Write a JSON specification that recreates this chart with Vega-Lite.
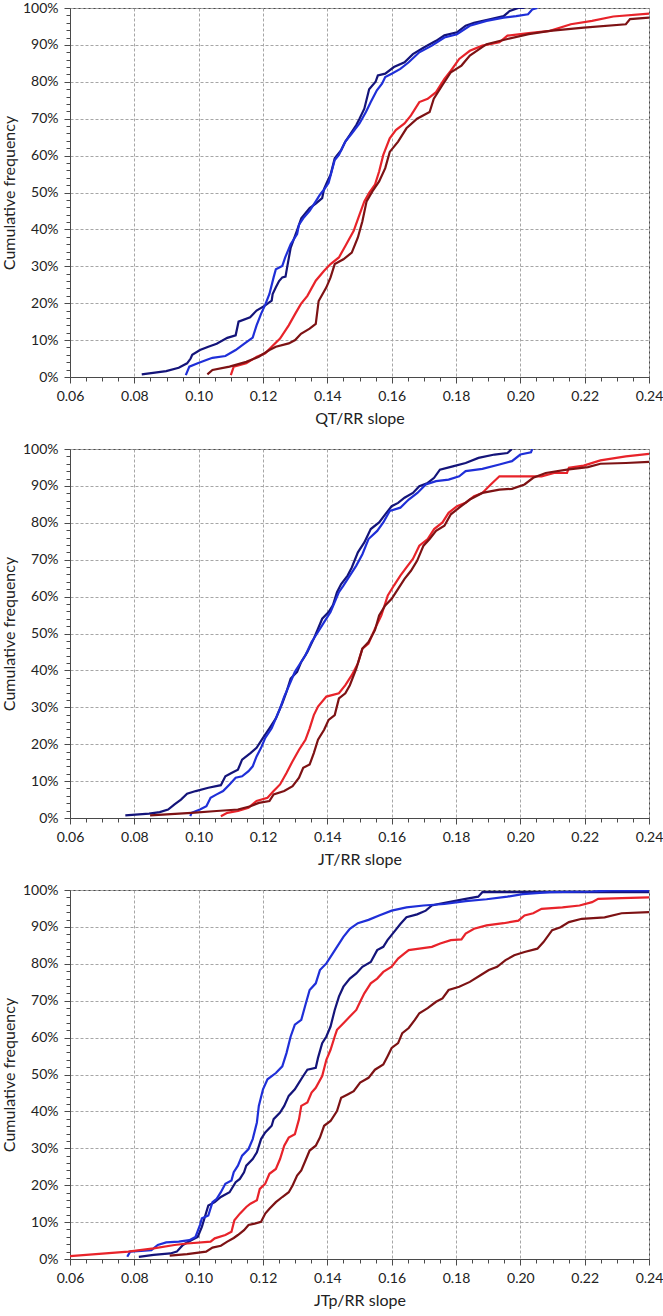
{
  "$schema": "https://vega.github.io/schema/vega-lite/v6.json",
  "padding": {"left": 0, "top": 0, "right": 0, "bottom": 0},
  "spacing": 14,
  "datasets": {
    "cdf": [
      {"p":1,"s":"navy","x":0.0823,"y":0.7},{"p":1,"s":"navy","x":0.0899,"y":1.6},{"p":1,"s":"navy","x":0.0938,"y":2.5},{"p":1,"s":"navy","x":0.0964,"y":3.7},{"p":1,"s":"navy","x":0.0975,"y":5},{"p":1,"s":"navy","x":0.098,"y":6},{"p":1,"s":"navy","x":0.1004,"y":7.3},{"p":1,"s":"navy","x":0.103,"y":8.2},{"p":1,"s":"navy","x":0.1056,"y":9},{"p":1,"s":"navy","x":0.1089,"y":10.6},{"p":1,"s":"navy","x":0.1115,"y":11.3},{"p":1,"s":"navy","x":0.1124,"y":15},{"p":1,"s":"navy","x":0.116,"y":16.2},{"p":1,"s":"navy","x":0.118,"y":18},{"p":1,"s":"navy","x":0.1207,"y":19.4},{"p":1,"s":"navy","x":0.1227,"y":20.7},{"p":1,"s":"navy","x":0.123,"y":22.5},{"p":1,"s":"navy","x":0.124,"y":24.3},{"p":1,"s":"navy","x":0.125,"y":26},{"p":1,"s":"navy","x":0.126,"y":27},{"p":1,"s":"navy","x":0.127,"y":27.2},{"p":1,"s":"navy","x":0.1275,"y":29.7},{"p":1,"s":"navy","x":0.1286,"y":35},{"p":1,"s":"navy","x":0.1305,"y":39.5},{"p":1,"s":"navy","x":0.1319,"y":43},{"p":1,"s":"navy","x":0.1345,"y":45.8},{"p":1,"s":"navy","x":0.1364,"y":47},{"p":1,"s":"navy","x":0.1384,"y":48.5},{"p":1,"s":"navy","x":0.139,"y":51},{"p":1,"s":"navy","x":0.14,"y":53},{"p":1,"s":"navy","x":0.141,"y":54.8},{"p":1,"s":"navy","x":0.1423,"y":59.3},{"p":1,"s":"navy","x":0.1443,"y":61.5},{"p":1,"s":"navy","x":0.1456,"y":63.8},{"p":1,"s":"navy","x":0.147,"y":65.6},{"p":1,"s":"navy","x":0.149,"y":68.3},{"p":1,"s":"navy","x":0.15,"y":70},{"p":1,"s":"navy","x":0.1515,"y":72.7},{"p":1,"s":"navy","x":0.153,"y":78},{"p":1,"s":"navy","x":0.155,"y":80},{"p":1,"s":"navy","x":0.1557,"y":81.7},{"p":1,"s":"navy","x":0.158,"y":82.2},{"p":1,"s":"navy","x":0.1607,"y":84},{"p":1,"s":"navy","x":0.164,"y":85.3},{"p":1,"s":"navy","x":0.1666,"y":87.5},{"p":1,"s":"navy","x":0.17,"y":89.3},{"p":1,"s":"navy","x":0.1738,"y":91.1},{"p":1,"s":"navy","x":0.1764,"y":92.6},{"p":1,"s":"navy","x":0.1803,"y":93.4},{"p":1,"s":"navy","x":0.183,"y":95.2},{"p":1,"s":"navy","x":0.1856,"y":96},{"p":1,"s":"navy","x":0.1908,"y":97},{"p":1,"s":"navy","x":0.1948,"y":97.8},{"p":1,"s":"navy","x":0.1967,"y":99.2},{"p":1,"s":"navy","x":0.1994,"y":100},{"p":1,"s":"navy","x":0.2012,"y":100},
      {"p":1,"s":"blue","x":0.096,"y":0.5},{"p":1,"s":"blue","x":0.0971,"y":2.8},{"p":1,"s":"blue","x":0.0997,"y":3.7},{"p":1,"s":"blue","x":0.103,"y":4.8},{"p":1,"s":"blue","x":0.1043,"y":5.2},{"p":1,"s":"blue","x":0.1083,"y":5.7},{"p":1,"s":"blue","x":0.1115,"y":7.3},{"p":1,"s":"blue","x":0.1141,"y":9},{"p":1,"s":"blue","x":0.1168,"y":10.7},{"p":1,"s":"blue","x":0.118,"y":14},{"p":1,"s":"blue","x":0.1194,"y":17.1},{"p":1,"s":"blue","x":0.1207,"y":19.6},{"p":1,"s":"blue","x":0.122,"y":22.5},{"p":1,"s":"blue","x":0.1233,"y":27},{"p":1,"s":"blue","x":0.124,"y":29.2},{"p":1,"s":"blue","x":0.126,"y":30.1},{"p":1,"s":"blue","x":0.1269,"y":32.4},{"p":1,"s":"blue","x":0.1286,"y":36},{"p":1,"s":"blue","x":0.1306,"y":38.7},{"p":1,"s":"blue","x":0.1312,"y":41.3},{"p":1,"s":"blue","x":0.1325,"y":43},{"p":1,"s":"blue","x":0.1345,"y":45},{"p":1,"s":"blue","x":0.1364,"y":47.6},{"p":1,"s":"blue","x":0.1377,"y":49.4},{"p":1,"s":"blue","x":0.139,"y":50.8},{"p":1,"s":"blue","x":0.1404,"y":52.6},{"p":1,"s":"blue","x":0.1423,"y":58.8},{"p":1,"s":"blue","x":0.1436,"y":60.2},{"p":1,"s":"blue","x":0.1456,"y":63.8},{"p":1,"s":"blue","x":0.1476,"y":66},{"p":1,"s":"blue","x":0.15,"y":68.7},{"p":1,"s":"blue","x":0.152,"y":71.8},{"p":1,"s":"blue","x":0.1535,"y":74.5},{"p":1,"s":"blue","x":0.1554,"y":77.7},{"p":1,"s":"blue","x":0.157,"y":79.5},{"p":1,"s":"blue","x":0.158,"y":81.3},{"p":1,"s":"blue","x":0.16,"y":82.2},{"p":1,"s":"blue","x":0.1627,"y":83.5},{"p":1,"s":"blue","x":0.1653,"y":85.3},{"p":1,"s":"blue","x":0.1686,"y":88},{"p":1,"s":"blue","x":0.1725,"y":89.8},{"p":1,"s":"blue","x":0.1764,"y":92},{"p":1,"s":"blue","x":0.1803,"y":92.9},{"p":1,"s":"blue","x":0.1843,"y":95.2},{"p":1,"s":"blue","x":0.1895,"y":96.5},{"p":1,"s":"blue","x":0.1948,"y":97.4},{"p":1,"s":"blue","x":0.1987,"y":97.8},{"p":1,"s":"blue","x":0.2024,"y":98.3},{"p":1,"s":"blue","x":0.2037,"y":99.6},{"p":1,"s":"blue","x":0.2053,"y":100},
      {"p":1,"s":"red","x":0.11,"y":0.5},{"p":1,"s":"red","x":0.1109,"y":2.8},{"p":1,"s":"red","x":0.1148,"y":3.7},{"p":1,"s":"red","x":0.1181,"y":5.5},{"p":1,"s":"red","x":0.1207,"y":6.4},{"p":1,"s":"red","x":0.1227,"y":8.2},{"p":1,"s":"red","x":0.1253,"y":10.4},{"p":1,"s":"red","x":0.128,"y":14},{"p":1,"s":"red","x":0.13,"y":17.1},{"p":1,"s":"red","x":0.1318,"y":19.8},{"p":1,"s":"red","x":0.1338,"y":22},{"p":1,"s":"red","x":0.1364,"y":26.1},{"p":1,"s":"red","x":0.139,"y":28.8},{"p":1,"s":"red","x":0.141,"y":30.6},{"p":1,"s":"red","x":0.1436,"y":32.4},{"p":1,"s":"red","x":0.1456,"y":35.5},{"p":1,"s":"red","x":0.1482,"y":39.6},{"p":1,"s":"red","x":0.15,"y":44},{"p":1,"s":"red","x":0.1515,"y":47.6},{"p":1,"s":"red","x":0.153,"y":49.9},{"p":1,"s":"red","x":0.1548,"y":52.1},{"p":1,"s":"red","x":0.1561,"y":55.7},{"p":1,"s":"red","x":0.1574,"y":60.2},{"p":1,"s":"red","x":0.1594,"y":64.7},{"p":1,"s":"red","x":0.1613,"y":66.9},{"p":1,"s":"red","x":0.164,"y":68.7},{"p":1,"s":"red","x":0.166,"y":70.9},{"p":1,"s":"red","x":0.1686,"y":74.5},{"p":1,"s":"red","x":0.1712,"y":75.4},{"p":1,"s":"red","x":0.1738,"y":77.2},{"p":1,"s":"red","x":0.1764,"y":80.8},{"p":1,"s":"red","x":0.1784,"y":83},{"p":1,"s":"red","x":0.181,"y":86.2},{"p":1,"s":"red","x":0.1843,"y":88.4},{"p":1,"s":"red","x":0.1882,"y":89.8},{"p":1,"s":"red","x":0.1935,"y":90.7},{"p":1,"s":"red","x":0.196,"y":92.5},{"p":1,"s":"red","x":0.2026,"y":93.2},{"p":1,"s":"red","x":0.2092,"y":93.8},{"p":1,"s":"red","x":0.2157,"y":95.6},{"p":1,"s":"red","x":0.2223,"y":96.5},{"p":1,"s":"red","x":0.2289,"y":97.7},{"p":1,"s":"red","x":0.24,"y":98.5},
      {"p":1,"s":"darkred","x":0.1027,"y":0.7},{"p":1,"s":"darkred","x":0.1043,"y":1.9},{"p":1,"s":"darkred","x":0.1096,"y":2.8},{"p":1,"s":"darkred","x":0.1148,"y":4.1},{"p":1,"s":"darkred","x":0.1187,"y":5.5},{"p":1,"s":"darkred","x":0.122,"y":7.3},{"p":1,"s":"darkred","x":0.124,"y":8.2},{"p":1,"s":"darkred","x":0.128,"y":9.1},{"p":1,"s":"darkred","x":0.13,"y":10},{"p":1,"s":"darkred","x":0.1318,"y":11.7},{"p":1,"s":"darkred","x":0.1345,"y":13.1},{"p":1,"s":"darkred","x":0.1364,"y":14.4},{"p":1,"s":"darkred","x":0.1373,"y":20.6},{"p":1,"s":"darkred","x":0.1397,"y":24.3},{"p":1,"s":"darkred","x":0.141,"y":27},{"p":1,"s":"darkred","x":0.1423,"y":30.6},{"p":1,"s":"darkred","x":0.145,"y":31.9},{"p":1,"s":"darkred","x":0.1476,"y":33.7},{"p":1,"s":"darkred","x":0.1495,"y":37.8},{"p":1,"s":"darkred","x":0.1509,"y":42.2},{"p":1,"s":"darkred","x":0.1522,"y":47.6},{"p":1,"s":"darkred","x":0.154,"y":50.3},{"p":1,"s":"darkred","x":0.1561,"y":53},{"p":1,"s":"darkred","x":0.158,"y":56.6},{"p":1,"s":"darkred","x":0.1594,"y":61},{"p":1,"s":"darkred","x":0.162,"y":63.8},{"p":1,"s":"darkred","x":0.1646,"y":67.4},{"p":1,"s":"darkred","x":0.1679,"y":70},{"p":1,"s":"darkred","x":0.1718,"y":71.8},{"p":1,"s":"darkred","x":0.1731,"y":75.4},{"p":1,"s":"darkred","x":0.1757,"y":79},{"p":1,"s":"darkred","x":0.1784,"y":82.6},{"p":1,"s":"darkred","x":0.1817,"y":84.4},{"p":1,"s":"darkred","x":0.1843,"y":87.1},{"p":1,"s":"darkred","x":0.1895,"y":90.2},{"p":1,"s":"darkred","x":0.196,"y":91.6},{"p":1,"s":"darkred","x":0.2026,"y":92.9},{"p":1,"s":"darkred","x":0.2092,"y":93.8},{"p":1,"s":"darkred","x":0.2197,"y":94.7},{"p":1,"s":"darkred","x":0.2328,"y":95.6},{"p":1,"s":"darkred","x":0.2341,"y":97},{"p":1,"s":"darkred","x":0.24,"y":97.4},

      {"p":2,"s":"navy","x":0.0772,"y":0.7},{"p":2,"s":"navy","x":0.0846,"y":1.2},{"p":2,"s":"navy","x":0.0879,"y":1.6},{"p":2,"s":"navy","x":0.0905,"y":2.3},{"p":2,"s":"navy","x":0.0925,"y":3.7},{"p":2,"s":"navy","x":0.0945,"y":5},{"p":2,"s":"navy","x":0.0964,"y":6.6},{"p":2,"s":"navy","x":0.0991,"y":7.3},{"p":2,"s":"navy","x":0.103,"y":8.2},{"p":2,"s":"navy","x":0.1069,"y":8.9},{"p":2,"s":"navy","x":0.1083,"y":11.3},{"p":2,"s":"navy","x":0.1102,"y":12.2},{"p":2,"s":"navy","x":0.1122,"y":13.1},{"p":2,"s":"navy","x":0.1135,"y":15.8},{"p":2,"s":"navy","x":0.1161,"y":17.6},{"p":2,"s":"navy","x":0.118,"y":19},{"p":2,"s":"navy","x":0.12,"y":21.7},{"p":2,"s":"navy","x":0.122,"y":24.3},{"p":2,"s":"navy","x":0.124,"y":27},{"p":2,"s":"navy","x":0.126,"y":31.1},{"p":2,"s":"navy","x":0.1273,"y":34.2},{"p":2,"s":"navy","x":0.1286,"y":37.8},{"p":2,"s":"navy","x":0.1306,"y":39.6},{"p":2,"s":"navy","x":0.1319,"y":42.3},{"p":2,"s":"navy","x":0.1338,"y":45},{"p":2,"s":"navy","x":0.1358,"y":48.6},{"p":2,"s":"navy","x":0.1371,"y":51.3},{"p":2,"s":"navy","x":0.1384,"y":54},{"p":2,"s":"navy","x":0.1404,"y":55.8},{"p":2,"s":"navy","x":0.1417,"y":57.6},{"p":2,"s":"navy","x":0.143,"y":61.2},{"p":2,"s":"navy","x":0.1443,"y":63.4},{"p":2,"s":"navy","x":0.1463,"y":65.7},{"p":2,"s":"navy","x":0.1476,"y":67.9},{"p":2,"s":"navy","x":0.1495,"y":72},{"p":2,"s":"navy","x":0.1515,"y":74.7},{"p":2,"s":"navy","x":0.1535,"y":78.3},{"p":2,"s":"navy","x":0.1561,"y":80.1},{"p":2,"s":"navy","x":0.158,"y":82.3},{"p":2,"s":"navy","x":0.16,"y":84.5},{"p":2,"s":"navy","x":0.162,"y":85.4},{"p":2,"s":"navy","x":0.164,"y":86.8},{"p":2,"s":"navy","x":0.1666,"y":88.1},{"p":2,"s":"navy","x":0.1686,"y":89.9},{"p":2,"s":"navy","x":0.1712,"y":90.8},{"p":2,"s":"navy","x":0.1732,"y":92.2},{"p":2,"s":"navy","x":0.175,"y":94.4},{"p":2,"s":"navy","x":0.179,"y":95.3},{"p":2,"s":"navy","x":0.183,"y":96.2},{"p":2,"s":"navy","x":0.187,"y":97.6},{"p":2,"s":"navy","x":0.192,"y":98.5},{"p":2,"s":"navy","x":0.196,"y":98.9},{"p":2,"s":"navy","x":0.1974,"y":100},
      {"p":2,"s":"blue","x":0.0974,"y":0.5},{"p":2,"s":"blue","x":0.0978,"y":1.4},{"p":2,"s":"blue","x":0.1004,"y":2.3},{"p":2,"s":"blue","x":0.1024,"y":3.2},{"p":2,"s":"blue","x":0.1037,"y":5.5},{"p":2,"s":"blue","x":0.1056,"y":6.4},{"p":2,"s":"blue","x":0.1076,"y":7.3},{"p":2,"s":"blue","x":0.1096,"y":9.1},{"p":2,"s":"blue","x":0.1115,"y":10.9},{"p":2,"s":"blue","x":0.1135,"y":11.3},{"p":2,"s":"blue","x":0.1155,"y":12.7},{"p":2,"s":"blue","x":0.1168,"y":14},{"p":2,"s":"blue","x":0.118,"y":16.7},{"p":2,"s":"blue","x":0.1194,"y":19},{"p":2,"s":"blue","x":0.1207,"y":21.7},{"p":2,"s":"blue","x":0.1227,"y":24.3},{"p":2,"s":"blue","x":0.124,"y":27},{"p":2,"s":"blue","x":0.1253,"y":29.7},{"p":2,"s":"blue","x":0.1266,"y":32.9},{"p":2,"s":"blue","x":0.1286,"y":36.9},{"p":2,"s":"blue","x":0.1299,"y":39.6},{"p":2,"s":"blue","x":0.1312,"y":41.4},{"p":2,"s":"blue","x":0.1332,"y":44.1},{"p":2,"s":"blue","x":0.1351,"y":47.7},{"p":2,"s":"blue","x":0.1371,"y":50.4},{"p":2,"s":"blue","x":0.139,"y":53.1},{"p":2,"s":"blue","x":0.141,"y":55.8},{"p":2,"s":"blue","x":0.1423,"y":58.5},{"p":2,"s":"blue","x":0.1436,"y":61.2},{"p":2,"s":"blue","x":0.145,"y":63},{"p":2,"s":"blue","x":0.147,"y":65.7},{"p":2,"s":"blue","x":0.149,"y":68.4},{"p":2,"s":"blue","x":0.1509,"y":71.5},{"p":2,"s":"blue","x":0.1528,"y":75.6},{"p":2,"s":"blue","x":0.1555,"y":77.8},{"p":2,"s":"blue","x":0.1574,"y":80.1},{"p":2,"s":"blue","x":0.1594,"y":83.2},{"p":2,"s":"blue","x":0.1627,"y":84.1},{"p":2,"s":"blue","x":0.1653,"y":86.3},{"p":2,"s":"blue","x":0.168,"y":88.1},{"p":2,"s":"blue","x":0.1706,"y":90.4},{"p":2,"s":"blue","x":0.1738,"y":91.3},{"p":2,"s":"blue","x":0.1777,"y":91.7},{"p":2,"s":"blue","x":0.181,"y":92.6},{"p":2,"s":"blue","x":0.183,"y":94},{"p":2,"s":"blue","x":0.1882,"y":94.6},{"p":2,"s":"blue","x":0.1935,"y":95.8},{"p":2,"s":"blue","x":0.1974,"y":96.7},{"p":2,"s":"blue","x":0.2,"y":98.5},{"p":2,"s":"blue","x":0.2033,"y":99.1},{"p":2,"s":"blue","x":0.2037,"y":100},
      {"p":2,"s":"red","x":0.1069,"y":0.5},{"p":2,"s":"red","x":0.1089,"y":1.4},{"p":2,"s":"red","x":0.1122,"y":1.9},{"p":2,"s":"red","x":0.1155,"y":2.8},{"p":2,"s":"red","x":0.118,"y":4.6},{"p":2,"s":"red","x":0.1214,"y":5.5},{"p":2,"s":"red","x":0.1233,"y":7.3},{"p":2,"s":"red","x":0.1253,"y":9.1},{"p":2,"s":"red","x":0.1273,"y":12.2},{"p":2,"s":"red","x":0.1292,"y":15.4},{"p":2,"s":"red","x":0.1312,"y":18.5},{"p":2,"s":"red","x":0.1332,"y":21.2},{"p":2,"s":"red","x":0.1345,"y":24.3},{"p":2,"s":"red","x":0.1358,"y":27.9},{"p":2,"s":"red","x":0.1371,"y":30.2},{"p":2,"s":"red","x":0.1397,"y":32.9},{"p":2,"s":"red","x":0.1436,"y":33.8},{"p":2,"s":"red","x":0.1456,"y":36},{"p":2,"s":"red","x":0.1476,"y":38.7},{"p":2,"s":"red","x":0.1495,"y":41.9},{"p":2,"s":"red","x":0.1509,"y":45.9},{"p":2,"s":"red","x":0.1528,"y":47.3},{"p":2,"s":"red","x":0.1548,"y":51.3},{"p":2,"s":"red","x":0.1568,"y":54.9},{"p":2,"s":"red","x":0.1588,"y":60.3},{"p":2,"s":"red","x":0.1607,"y":63},{"p":2,"s":"red","x":0.1627,"y":65.7},{"p":2,"s":"red","x":0.1646,"y":67.9},{"p":2,"s":"red","x":0.1666,"y":70.2},{"p":2,"s":"red","x":0.1686,"y":73.8},{"p":2,"s":"red","x":0.1712,"y":75.6},{"p":2,"s":"red","x":0.1732,"y":78.3},{"p":2,"s":"red","x":0.1758,"y":80.1},{"p":2,"s":"red","x":0.1777,"y":82.7},{"p":2,"s":"red","x":0.1803,"y":84.5},{"p":2,"s":"red","x":0.183,"y":85.4},{"p":2,"s":"red","x":0.1856,"y":87.2},{"p":2,"s":"red","x":0.1882,"y":88.1},{"p":2,"s":"red","x":0.1908,"y":90.4},{"p":2,"s":"red","x":0.1935,"y":92.6},{"p":2,"s":"red","x":0.2,"y":92.6},{"p":2,"s":"red","x":0.2066,"y":92.6},{"p":2,"s":"red","x":0.2105,"y":93.5},{"p":2,"s":"red","x":0.2145,"y":93.5},{"p":2,"s":"red","x":0.2151,"y":94.9},{"p":2,"s":"red","x":0.2197,"y":95.5},{"p":2,"s":"red","x":0.2249,"y":96.9},{"p":2,"s":"red","x":0.2328,"y":98},{"p":2,"s":"red","x":0.24,"y":98.7},
      {"p":2,"s":"darkred","x":0.0849,"y":0.7},{"p":2,"s":"darkred","x":0.0978,"y":1.4},{"p":2,"s":"darkred","x":0.1056,"y":1.9},{"p":2,"s":"darkred","x":0.1122,"y":2.3},{"p":2,"s":"darkred","x":0.1161,"y":3.2},{"p":2,"s":"darkred","x":0.1187,"y":4.1},{"p":2,"s":"darkred","x":0.122,"y":4.6},{"p":2,"s":"darkred","x":0.1233,"y":6.4},{"p":2,"s":"darkred","x":0.1266,"y":7.3},{"p":2,"s":"darkred","x":0.1292,"y":8.6},{"p":2,"s":"darkred","x":0.1312,"y":10.9},{"p":2,"s":"darkred","x":0.1325,"y":13.6},{"p":2,"s":"darkred","x":0.1345,"y":14.5},{"p":2,"s":"darkred","x":0.1358,"y":17.6},{"p":2,"s":"darkred","x":0.1371,"y":21.2},{"p":2,"s":"darkred","x":0.139,"y":23.9},{"p":2,"s":"darkred","x":0.1404,"y":26.6},{"p":2,"s":"darkred","x":0.1423,"y":27.9},{"p":2,"s":"darkred","x":0.1436,"y":32.4},{"p":2,"s":"darkred","x":0.1456,"y":33.8},{"p":2,"s":"darkred","x":0.147,"y":36},{"p":2,"s":"darkred","x":0.149,"y":40.5},{"p":2,"s":"darkred","x":0.1509,"y":45.9},{"p":2,"s":"darkred","x":0.1528,"y":47.7},{"p":2,"s":"darkred","x":0.1548,"y":50.9},{"p":2,"s":"darkred","x":0.1561,"y":54.9},{"p":2,"s":"darkred","x":0.158,"y":57.6},{"p":2,"s":"darkred","x":0.16,"y":59.4},{"p":2,"s":"darkred","x":0.162,"y":62.1},{"p":2,"s":"darkred","x":0.164,"y":64.8},{"p":2,"s":"darkred","x":0.166,"y":67},{"p":2,"s":"darkred","x":0.1679,"y":69.7},{"p":2,"s":"darkred","x":0.1699,"y":73.8},{"p":2,"s":"darkred","x":0.1718,"y":75.6},{"p":2,"s":"darkred","x":0.1738,"y":77.8},{"p":2,"s":"darkred","x":0.1764,"y":79.2},{"p":2,"s":"darkred","x":0.1784,"y":82.3},{"p":2,"s":"darkred","x":0.181,"y":84.1},{"p":2,"s":"darkred","x":0.1843,"y":86.3},{"p":2,"s":"darkred","x":0.1882,"y":88.1},{"p":2,"s":"darkred","x":0.1935,"y":89},{"p":2,"s":"darkred","x":0.1974,"y":89.2},{"p":2,"s":"darkred","x":0.2013,"y":90.4},{"p":2,"s":"darkred","x":0.204,"y":92.2},{"p":2,"s":"darkred","x":0.2079,"y":93.5},{"p":2,"s":"darkred","x":0.2145,"y":94.4},{"p":2,"s":"darkred","x":0.221,"y":95.1},{"p":2,"s":"darkred","x":0.2249,"y":96},{"p":2,"s":"darkred","x":0.2328,"y":96.2},{"p":2,"s":"darkred","x":0.24,"y":96.5},

      {"p":3,"s":"navy","x":0.0814,"y":0.6},{"p":3,"s":"navy","x":0.086,"y":1.1},{"p":3,"s":"navy","x":0.0912,"y":1.5},{"p":3,"s":"navy","x":0.0932,"y":2},{"p":3,"s":"navy","x":0.0951,"y":3.8},{"p":3,"s":"navy","x":0.0971,"y":4.8},{"p":3,"s":"navy","x":0.0997,"y":6},{"p":3,"s":"navy","x":0.101,"y":8.7},{"p":3,"s":"navy","x":0.103,"y":14.5},{"p":3,"s":"navy","x":0.105,"y":15.4},{"p":3,"s":"navy","x":0.1069,"y":16.8},{"p":3,"s":"navy","x":0.1096,"y":18.1},{"p":3,"s":"navy","x":0.1115,"y":20.8},{"p":3,"s":"navy","x":0.1128,"y":21.7},{"p":3,"s":"navy","x":0.1141,"y":23.5},{"p":3,"s":"navy","x":0.1148,"y":25.3},{"p":3,"s":"navy","x":0.1168,"y":27.1},{"p":3,"s":"navy","x":0.1181,"y":28.9},{"p":3,"s":"navy","x":0.1194,"y":32.5},{"p":3,"s":"navy","x":0.1207,"y":34.3},{"p":3,"s":"navy","x":0.1227,"y":36.1},{"p":3,"s":"navy","x":0.1233,"y":37.9},{"p":3,"s":"navy","x":0.1253,"y":39.7},{"p":3,"s":"navy","x":0.1266,"y":41.5},{"p":3,"s":"navy","x":0.128,"y":44.2},{"p":3,"s":"navy","x":0.1299,"y":46},{"p":3,"s":"navy","x":0.1312,"y":47.8},{"p":3,"s":"navy","x":0.1325,"y":49.6},{"p":3,"s":"navy","x":0.1338,"y":51.3},{"p":3,"s":"navy","x":0.1364,"y":51.8},{"p":3,"s":"navy","x":0.1371,"y":54.5},{"p":3,"s":"navy","x":0.1384,"y":58.5},{"p":3,"s":"navy","x":0.1397,"y":60.3},{"p":3,"s":"navy","x":0.141,"y":63},{"p":3,"s":"navy","x":0.1423,"y":67.5},{"p":3,"s":"navy","x":0.1436,"y":71.1},{"p":3,"s":"navy","x":0.145,"y":73.8},{"p":3,"s":"navy","x":0.147,"y":76},{"p":3,"s":"navy","x":0.149,"y":77.4},{"p":3,"s":"navy","x":0.1509,"y":79.2},{"p":3,"s":"navy","x":0.1535,"y":80.5},{"p":3,"s":"navy","x":0.1555,"y":83.7},{"p":3,"s":"navy","x":0.1574,"y":84.6},{"p":3,"s":"navy","x":0.1587,"y":86.4},{"p":3,"s":"navy","x":0.1607,"y":88.6},{"p":3,"s":"navy","x":0.1627,"y":90.8},{"p":3,"s":"navy","x":0.1646,"y":92.6},{"p":3,"s":"navy","x":0.1679,"y":93.4},{"p":3,"s":"navy","x":0.1706,"y":94.4},{"p":3,"s":"navy","x":0.1725,"y":95.8},{"p":3,"s":"navy","x":0.1745,"y":96.2},{"p":3,"s":"navy","x":0.1777,"y":96.7},{"p":3,"s":"navy","x":0.183,"y":97.6},{"p":3,"s":"navy","x":0.1869,"y":98.2},{"p":3,"s":"navy","x":0.1882,"y":99.4},{"p":3,"s":"navy","x":0.24,"y":99.4},
      {"p":3,"s":"blue","x":0.0778,"y":0.6},{"p":3,"s":"blue","x":0.0787,"y":2},{"p":3,"s":"blue","x":0.0853,"y":2.4},{"p":3,"s":"blue","x":0.0873,"y":3.8},{"p":3,"s":"blue","x":0.0899,"y":4.5},{"p":3,"s":"blue","x":0.0938,"y":4.7},{"p":3,"s":"blue","x":0.0971,"y":5.1},{"p":3,"s":"blue","x":0.099,"y":6},{"p":3,"s":"blue","x":0.1004,"y":9.2},{"p":3,"s":"blue","x":0.101,"y":11},{"p":3,"s":"blue","x":0.103,"y":11.8},{"p":3,"s":"blue","x":0.1043,"y":15.4},{"p":3,"s":"blue","x":0.1056,"y":16.3},{"p":3,"s":"blue","x":0.1069,"y":18.1},{"p":3,"s":"blue","x":0.1083,"y":20.4},{"p":3,"s":"blue","x":0.1102,"y":21.3},{"p":3,"s":"blue","x":0.1109,"y":23.5},{"p":3,"s":"blue","x":0.1122,"y":25.3},{"p":3,"s":"blue","x":0.1135,"y":28},{"p":3,"s":"blue","x":0.1155,"y":29.8},{"p":3,"s":"blue","x":0.1168,"y":32.5},{"p":3,"s":"blue","x":0.1181,"y":37},{"p":3,"s":"blue","x":0.1187,"y":41.5},{"p":3,"s":"blue","x":0.12,"y":46},{"p":3,"s":"blue","x":0.1214,"y":48.7},{"p":3,"s":"blue","x":0.124,"y":50.4},{"p":3,"s":"blue","x":0.126,"y":52.2},{"p":3,"s":"blue","x":0.1273,"y":55.8},{"p":3,"s":"blue","x":0.1286,"y":60.3},{"p":3,"s":"blue","x":0.1299,"y":63.5},{"p":3,"s":"blue","x":0.1319,"y":64.8},{"p":3,"s":"blue","x":0.1332,"y":68.9},{"p":3,"s":"blue","x":0.1345,"y":72.9},{"p":3,"s":"blue","x":0.1364,"y":74.7},{"p":3,"s":"blue","x":0.1377,"y":78.3},{"p":3,"s":"blue","x":0.1397,"y":80.1},{"p":3,"s":"blue","x":0.1417,"y":82.8},{"p":3,"s":"blue","x":0.143,"y":84.6},{"p":3,"s":"blue","x":0.145,"y":87.3},{"p":3,"s":"blue","x":0.147,"y":89.5},{"p":3,"s":"blue","x":0.1495,"y":91},{"p":3,"s":"blue","x":0.1528,"y":91.9},{"p":3,"s":"blue","x":0.1561,"y":93.1},{"p":3,"s":"blue","x":0.16,"y":94.4},{"p":3,"s":"blue","x":0.1646,"y":95.3},{"p":3,"s":"blue","x":0.1699,"y":95.8},{"p":3,"s":"blue","x":0.1764,"y":96.2},{"p":3,"s":"blue","x":0.183,"y":97},{"p":3,"s":"blue","x":0.1895,"y":97.5},{"p":3,"s":"blue","x":0.196,"y":98.2},{"p":3,"s":"blue","x":0.2007,"y":98.9},{"p":3,"s":"blue","x":0.2092,"y":99.4},{"p":3,"s":"blue","x":0.2223,"y":99.6},{"p":3,"s":"blue","x":0.2285,"y":99.9},{"p":3,"s":"blue","x":0.24,"y":99.9},
      {"p":3,"s":"red","x":0.06,"y":0.8},{"p":3,"s":"red","x":0.0781,"y":2},{"p":3,"s":"red","x":0.086,"y":2.9},{"p":3,"s":"red","x":0.0925,"y":3.8},{"p":3,"s":"red","x":0.0964,"y":4.2},{"p":3,"s":"red","x":0.1037,"y":4.7},{"p":3,"s":"red","x":0.105,"y":5.6},{"p":3,"s":"red","x":0.1083,"y":6.5},{"p":3,"s":"red","x":0.1102,"y":7.4},{"p":3,"s":"red","x":0.1111,"y":10.5},{"p":3,"s":"red","x":0.1128,"y":12.3},{"p":3,"s":"red","x":0.1148,"y":14.1},{"p":3,"s":"red","x":0.1161,"y":15},{"p":3,"s":"red","x":0.1181,"y":15.9},{"p":3,"s":"red","x":0.119,"y":19},{"p":3,"s":"red","x":0.1207,"y":20.4},{"p":3,"s":"red","x":0.122,"y":23.1},{"p":3,"s":"red","x":0.124,"y":24.4},{"p":3,"s":"red","x":0.1253,"y":27.1},{"p":3,"s":"red","x":0.1266,"y":30.7},{"p":3,"s":"red","x":0.128,"y":32.9},{"p":3,"s":"red","x":0.1299,"y":33.8},{"p":3,"s":"red","x":0.1312,"y":37.9},{"p":3,"s":"red","x":0.1319,"y":41.5},{"p":3,"s":"red","x":0.1338,"y":42.4},{"p":3,"s":"red","x":0.1351,"y":45.1},{"p":3,"s":"red","x":0.1364,"y":46.4},{"p":3,"s":"red","x":0.1384,"y":49.6},{"p":3,"s":"red","x":0.1397,"y":54},{"p":3,"s":"red","x":0.141,"y":56.7},{"p":3,"s":"red","x":0.1423,"y":60.3},{"p":3,"s":"red","x":0.143,"y":62.1},{"p":3,"s":"red","x":0.145,"y":63.9},{"p":3,"s":"red","x":0.147,"y":65.7},{"p":3,"s":"red","x":0.149,"y":67.5},{"p":3,"s":"red","x":0.1502,"y":69.7},{"p":3,"s":"red","x":0.1515,"y":72},{"p":3,"s":"red","x":0.1535,"y":74.7},{"p":3,"s":"red","x":0.1555,"y":76},{"p":3,"s":"red","x":0.1574,"y":77.8},{"p":3,"s":"red","x":0.16,"y":79.2},{"p":3,"s":"red","x":0.162,"y":81.4},{"p":3,"s":"red","x":0.164,"y":82.8},{"p":3,"s":"red","x":0.1653,"y":83.7},{"p":3,"s":"red","x":0.1686,"y":84.1},{"p":3,"s":"red","x":0.1725,"y":84.6},{"p":3,"s":"red","x":0.1751,"y":85.5},{"p":3,"s":"red","x":0.1784,"y":86.4},{"p":3,"s":"red","x":0.1817,"y":86.6},{"p":3,"s":"red","x":0.183,"y":88.2},{"p":3,"s":"red","x":0.1856,"y":89.5},{"p":3,"s":"red","x":0.1895,"y":90.4},{"p":3,"s":"red","x":0.1948,"y":91},{"p":3,"s":"red","x":0.1994,"y":91.7},{"p":3,"s":"red","x":0.2013,"y":93.1},{"p":3,"s":"red","x":0.204,"y":93.7},{"p":3,"s":"red","x":0.2066,"y":94.9},{"p":3,"s":"red","x":0.2131,"y":95.3},{"p":3,"s":"red","x":0.2184,"y":95.8},{"p":3,"s":"red","x":0.2223,"y":96.7},{"p":3,"s":"red","x":0.2242,"y":97.6},{"p":3,"s":"red","x":0.2315,"y":97.8},{"p":3,"s":"red","x":0.24,"y":98},
      {"p":3,"s":"darkred","x":0.091,"y":0.9},{"p":3,"s":"darkred","x":0.0964,"y":1.3},{"p":3,"s":"darkred","x":0.1023,"y":2},{"p":3,"s":"darkred","x":0.1043,"y":3.1},{"p":3,"s":"darkred","x":0.1069,"y":3.6},{"p":3,"s":"darkred","x":0.1089,"y":4.7},{"p":3,"s":"darkred","x":0.1109,"y":5.7},{"p":3,"s":"darkred","x":0.1122,"y":6.5},{"p":3,"s":"darkred","x":0.1141,"y":7.8},{"p":3,"s":"darkred","x":0.1155,"y":9.2},{"p":3,"s":"darkred","x":0.1174,"y":9.6},{"p":3,"s":"darkred","x":0.1194,"y":10.1},{"p":3,"s":"darkred","x":0.1207,"y":12.3},{"p":3,"s":"darkred","x":0.122,"y":13.6},{"p":3,"s":"darkred","x":0.124,"y":15.4},{"p":3,"s":"darkred","x":0.126,"y":16.8},{"p":3,"s":"darkred","x":0.128,"y":18.1},{"p":3,"s":"darkred","x":0.1292,"y":19.9},{"p":3,"s":"darkred","x":0.1306,"y":22.6},{"p":3,"s":"darkred","x":0.1319,"y":24},{"p":3,"s":"darkred","x":0.1332,"y":26.7},{"p":3,"s":"darkred","x":0.1345,"y":29.4},{"p":3,"s":"darkred","x":0.1364,"y":30.7},{"p":3,"s":"darkred","x":0.1377,"y":32.9},{"p":3,"s":"darkred","x":0.139,"y":36.1},{"p":3,"s":"darkred","x":0.141,"y":37.4},{"p":3,"s":"darkred","x":0.143,"y":40.1},{"p":3,"s":"darkred","x":0.1443,"y":43.7},{"p":3,"s":"darkred","x":0.1463,"y":44.6},{"p":3,"s":"darkred","x":0.1482,"y":45.5},{"p":3,"s":"darkred","x":0.1502,"y":47.8},{"p":3,"s":"darkred","x":0.1528,"y":49.1},{"p":3,"s":"darkred","x":0.1548,"y":51.3},{"p":3,"s":"darkred","x":0.1574,"y":52.7},{"p":3,"s":"darkred","x":0.1587,"y":54.9},{"p":3,"s":"darkred","x":0.16,"y":57.2},{"p":3,"s":"darkred","x":0.162,"y":58.5},{"p":3,"s":"darkred","x":0.1633,"y":61.2},{"p":3,"s":"darkred","x":0.1653,"y":62.6},{"p":3,"s":"darkred","x":0.1672,"y":64.8},{"p":3,"s":"darkred","x":0.1686,"y":66.6},{"p":3,"s":"darkred","x":0.1712,"y":68},{"p":3,"s":"darkred","x":0.1738,"y":69.7},{"p":3,"s":"darkred","x":0.1758,"y":70.6},{"p":3,"s":"darkred","x":0.1777,"y":72.9},{"p":3,"s":"darkred","x":0.181,"y":73.8},{"p":3,"s":"darkred","x":0.1843,"y":75.1},{"p":3,"s":"darkred","x":0.1876,"y":76.9},{"p":3,"s":"darkred","x":0.1902,"y":78.3},{"p":3,"s":"darkred","x":0.1928,"y":79.2},{"p":3,"s":"darkred","x":0.1954,"y":81},{"p":3,"s":"darkred","x":0.1981,"y":82.3},{"p":3,"s":"darkred","x":0.2013,"y":83.2},{"p":3,"s":"darkred","x":0.2053,"y":84.1},{"p":3,"s":"darkred","x":0.2072,"y":85.9},{"p":3,"s":"darkred","x":0.2099,"y":89.1},{"p":3,"s":"darkred","x":0.2125,"y":89.9},{"p":3,"s":"darkred","x":0.2151,"y":91.3},{"p":3,"s":"darkred","x":0.2191,"y":92.2},{"p":3,"s":"darkred","x":0.2262,"y":92.6},{"p":3,"s":"darkred","x":0.2315,"y":93.7},{"p":3,"s":"darkred","x":0.24,"y":94}
    ]
  },
  "data": {"name": "cdf"},
  "vconcat": [
    {
      "width": 579,
      "height": 369,
      "transform": [{"filter": "datum.p == 1"}],
      "mark": {"type": "line", "strokeWidth": 2.2, "clip": true},
      "encoding": {
        "x": {
          "field": "x", "type": "quantitative",
          "scale": {"domain": [0.06, 0.24], "nice": false, "zero": false},
          "axis": {
            "title": "QT/RR slope",
            "values": [0.06,0.065,0.07,0.075,0.08,0.085,0.09,0.095,0.1,0.105,0.11,0.115,0.12,0.125,0.13,0.135,0.14,0.145,0.15,0.155,0.16,0.165,0.17,0.175,0.18,0.185,0.19,0.195,0.2,0.205,0.21,0.215,0.22,0.225,0.23,0.235,0.24],
            "labelExpr": "abs(datum.value*50-round(datum.value*50)) < 0.01 ? format(datum.value, '.2f') : ''",
            "tickSize": {"condition": {"test": "abs(datum.value*50-round(datum.value*50)) < 0.01", "value": 6}, "value": 4},
            "gridOpacity": {"condition": {"test": "abs(datum.value*50-round(datum.value*50)) < 0.01", "value": 1}, "value": 0}
          }
        },
        "y": {
          "field": "y", "type": "quantitative",
          "scale": {"domain": [0, 100], "nice": false},
          "axis": {
            "title": "Cumulative frequency",
            "values": [0,2,4,6,8,10,12,14,16,18,20,22,24,26,28,30,32,34,36,38,40,42,44,46,48,50,52,54,56,58,60,62,64,66,68,70,72,74,76,78,80,82,84,86,88,90,92,94,96,98,100],
            "labelExpr": "datum.value % 10 == 0 ? datum.value + '%' : ''",
            "tickSize": {"condition": {"test": "datum.value % 10 == 0", "value": 6}, "value": 4},
            "gridOpacity": {"condition": {"test": "datum.value % 10 == 0", "value": 1}, "value": 0}
          }
        },
        "color": {
          "field": "s", "type": "nominal",
          "scale": {"domain": ["navy", "blue", "red", "darkred"], "range": ["#14147a", "#1f2fd8", "#e8232a", "#7d1214"]},
          "legend": null
        }
      }
    },
    {
      "width": 579,
      "height": 369,
      "transform": [{"filter": "datum.p == 2"}],
      "mark": {"type": "line", "strokeWidth": 2.2, "clip": true},
      "encoding": {
        "x": {
          "field": "x", "type": "quantitative",
          "scale": {"domain": [0.06, 0.24], "nice": false, "zero": false},
          "axis": {
            "title": "JT/RR slope",
            "values": [0.06,0.065,0.07,0.075,0.08,0.085,0.09,0.095,0.1,0.105,0.11,0.115,0.12,0.125,0.13,0.135,0.14,0.145,0.15,0.155,0.16,0.165,0.17,0.175,0.18,0.185,0.19,0.195,0.2,0.205,0.21,0.215,0.22,0.225,0.23,0.235,0.24],
            "labelExpr": "abs(datum.value*50-round(datum.value*50)) < 0.01 ? format(datum.value, '.2f') : ''",
            "tickSize": {"condition": {"test": "abs(datum.value*50-round(datum.value*50)) < 0.01", "value": 6}, "value": 4},
            "gridOpacity": {"condition": {"test": "abs(datum.value*50-round(datum.value*50)) < 0.01", "value": 1}, "value": 0}
          }
        },
        "y": {
          "field": "y", "type": "quantitative",
          "scale": {"domain": [0, 100], "nice": false},
          "axis": {
            "title": "Cumulative frequency",
            "values": [0,2,4,6,8,10,12,14,16,18,20,22,24,26,28,30,32,34,36,38,40,42,44,46,48,50,52,54,56,58,60,62,64,66,68,70,72,74,76,78,80,82,84,86,88,90,92,94,96,98,100],
            "labelExpr": "datum.value % 10 == 0 ? datum.value + '%' : ''",
            "tickSize": {"condition": {"test": "datum.value % 10 == 0", "value": 6}, "value": 4},
            "gridOpacity": {"condition": {"test": "datum.value % 10 == 0", "value": 1}, "value": 0}
          }
        },
        "color": {
          "field": "s", "type": "nominal",
          "scale": {"domain": ["navy", "blue", "red", "darkred"], "range": ["#14147a", "#1f2fd8", "#e8232a", "#7d1214"]},
          "legend": null
        }
      }
    },
    {
      "width": 579,
      "height": 369,
      "transform": [{"filter": "datum.p == 3"}],
      "mark": {"type": "line", "strokeWidth": 2.2, "clip": true},
      "encoding": {
        "x": {
          "field": "x", "type": "quantitative",
          "scale": {"domain": [0.06, 0.24], "nice": false, "zero": false},
          "axis": {
            "title": "JTp/RR slope",
            "values": [0.06,0.065,0.07,0.075,0.08,0.085,0.09,0.095,0.1,0.105,0.11,0.115,0.12,0.125,0.13,0.135,0.14,0.145,0.15,0.155,0.16,0.165,0.17,0.175,0.18,0.185,0.19,0.195,0.2,0.205,0.21,0.215,0.22,0.225,0.23,0.235,0.24],
            "labelExpr": "abs(datum.value*50-round(datum.value*50)) < 0.01 ? format(datum.value, '.2f') : ''",
            "tickSize": {"condition": {"test": "abs(datum.value*50-round(datum.value*50)) < 0.01", "value": 6}, "value": 4},
            "gridOpacity": {"condition": {"test": "abs(datum.value*50-round(datum.value*50)) < 0.01", "value": 1}, "value": 0}
          }
        },
        "y": {
          "field": "y", "type": "quantitative",
          "scale": {"domain": [0, 100], "nice": false},
          "axis": {
            "title": "Cumulative frequency",
            "values": [0,2,4,6,8,10,12,14,16,18,20,22,24,26,28,30,32,34,36,38,40,42,44,46,48,50,52,54,56,58,60,62,64,66,68,70,72,74,76,78,80,82,84,86,88,90,92,94,96,98,100],
            "labelExpr": "datum.value % 10 == 0 ? datum.value + '%' : ''",
            "tickSize": {"condition": {"test": "datum.value % 10 == 0", "value": 6}, "value": 4},
            "gridOpacity": {"condition": {"test": "datum.value % 10 == 0", "value": 1}, "value": 0}
          }
        },
        "color": {
          "field": "s", "type": "nominal",
          "scale": {"domain": ["navy", "blue", "red", "darkred"], "range": ["#14147a", "#1f2fd8", "#e8232a", "#7d1214"]},
          "legend": null
        }
      }
    }
  ],
  "config": {
    "background": "white",
    "view": {"stroke": "#4a4a4a", "strokeWidth": 1},
    "axis": {
      "labelFont": "Lato",
      "titleFont": "Lato",
      "labelFontSize": 14,
      "titleFontSize": 16,
      "titleFontWeight": "normal",
      "labelColor": "#222",
      "titleColor": "#222",
      "labelOverlap": false,
      "labelFlush": false,
      "domainColor": "#4a4a4a",
      "tickColor": "#4a4a4a",
      "gridColor": "#a6a6a6",
      "gridDash": [3, 2],
      "gridWidth": 1
    },
    "axisX": {"labelPadding": 6, "titlePadding": 7},
    "axisY": {"labelPadding": 6, "titlePadding": 5}
  }
}
